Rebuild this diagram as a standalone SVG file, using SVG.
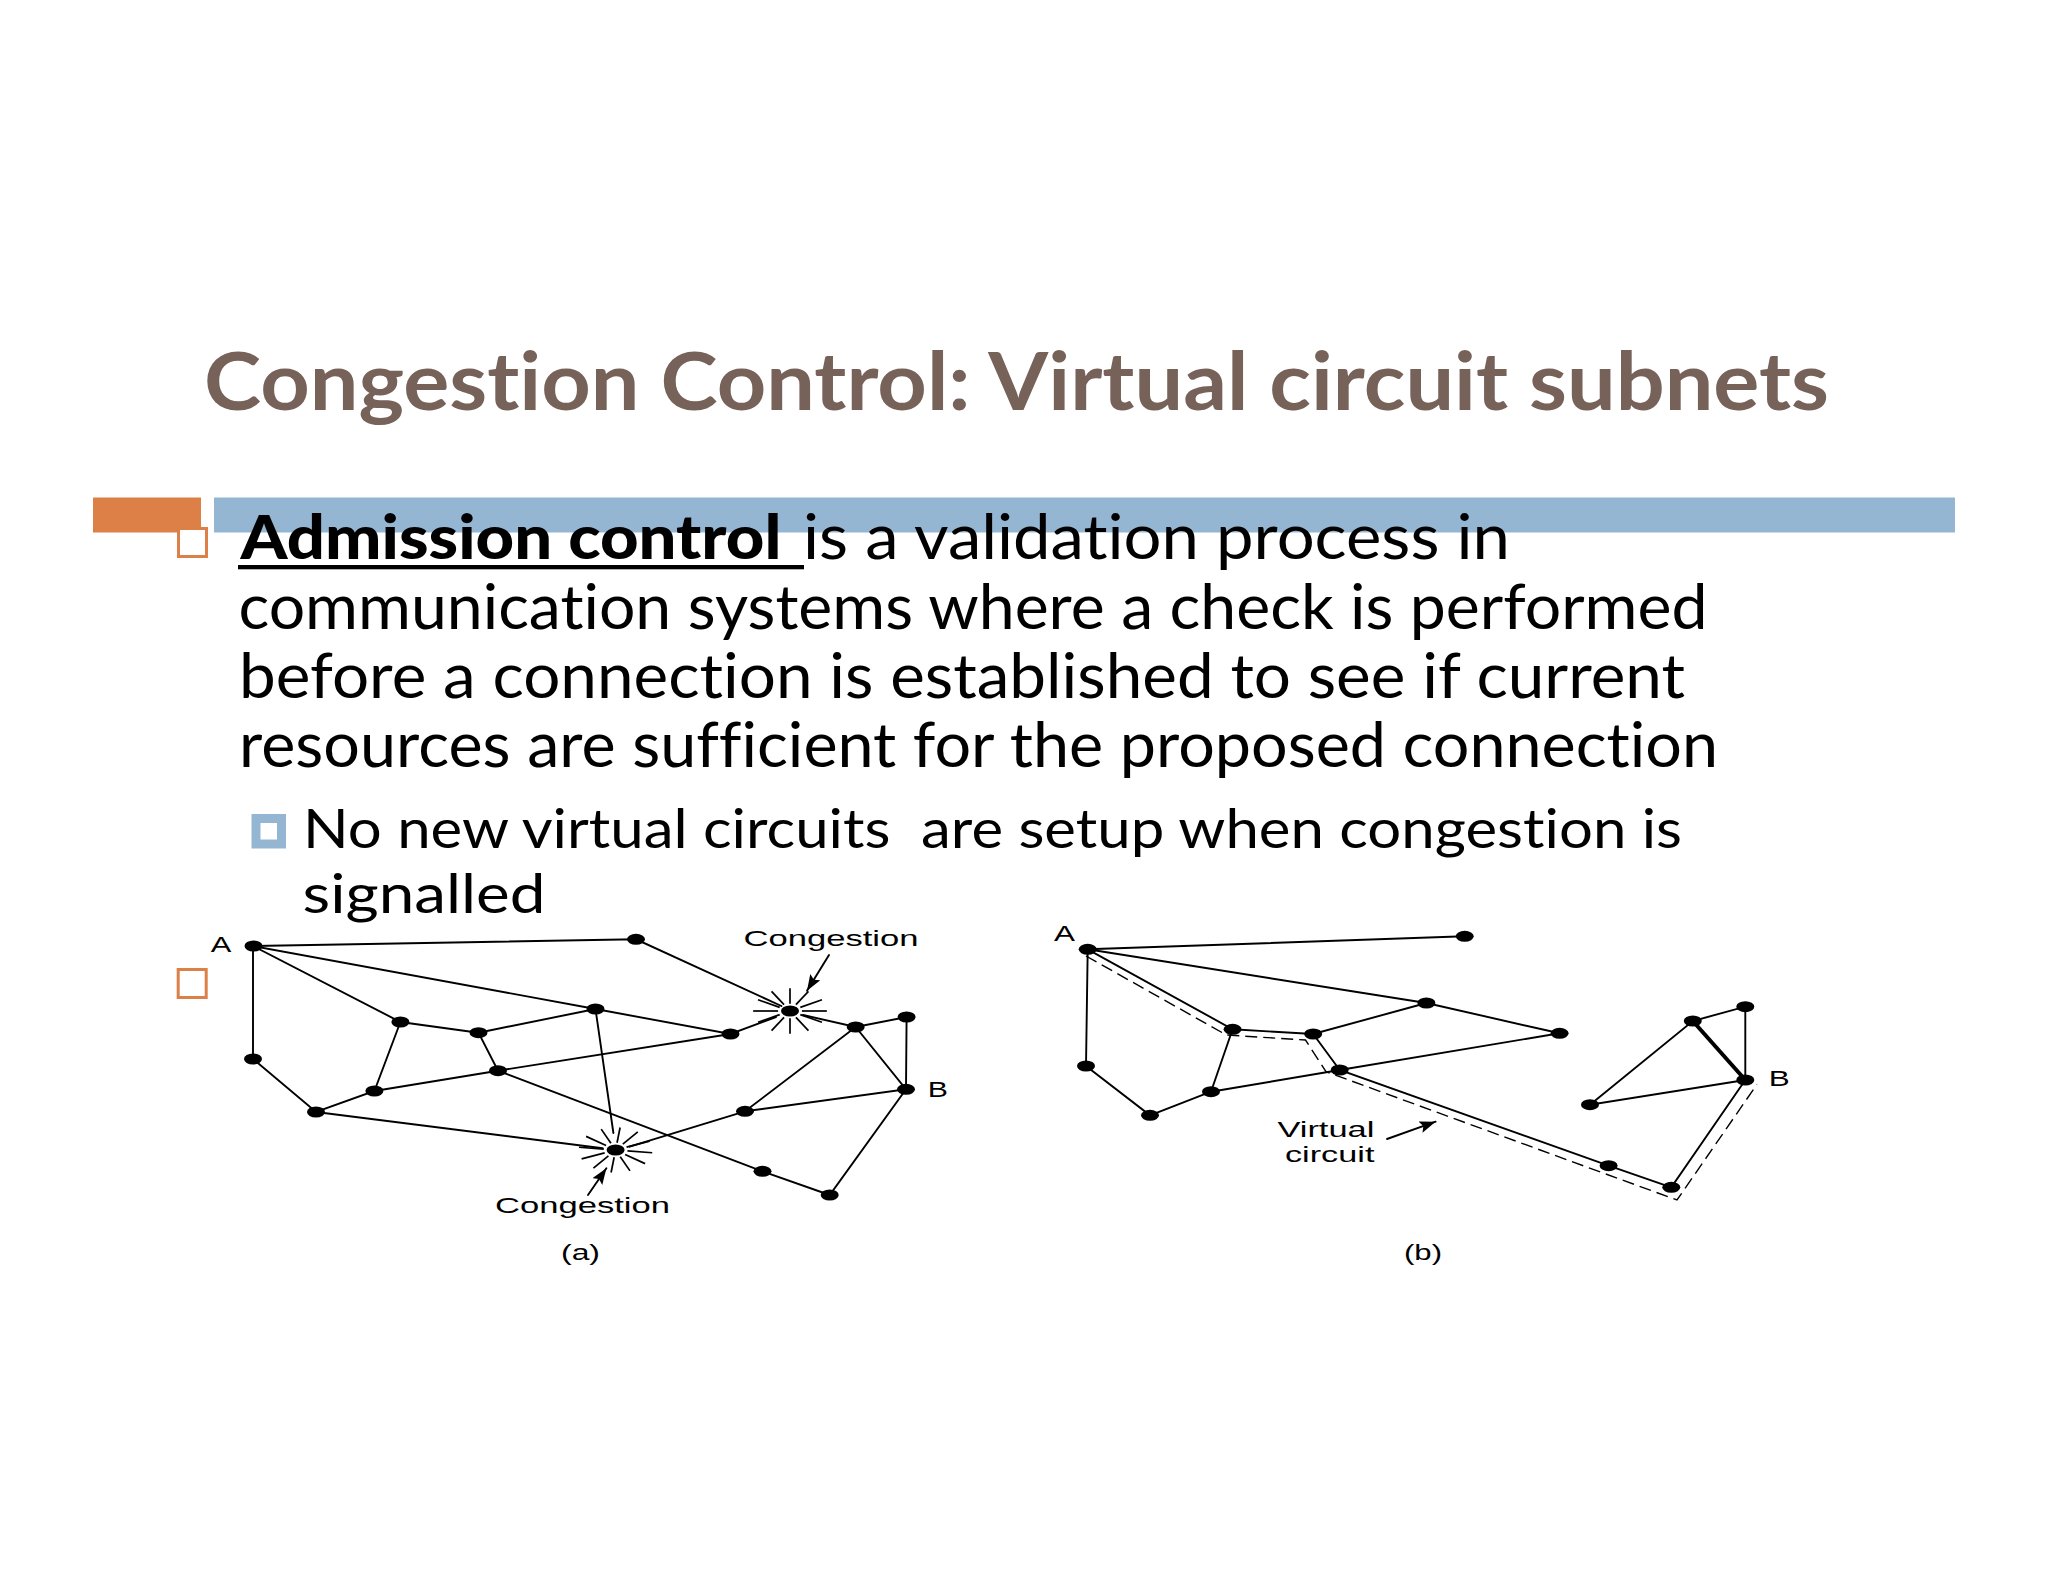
<svg xmlns="http://www.w3.org/2000/svg" xmlns:xlink="http://www.w3.org/1999/xlink" width="2048" height="1582" viewBox="0 0 2048 1582">
<style>
text{font-variant-ligatures:none}
.title{font-family:"Lato","Liberation Sans",sans-serif;font-weight:700;font-size:81px;fill:#77625a}
.b1{font-family:"Lato","Liberation Sans",sans-serif;font-size:61px;fill:#000}
.b1b{font-family:"Lato","Liberation Sans",sans-serif;font-size:61px;font-weight:900;fill:#000}
.b2{font-family:"Lato","Liberation Sans",sans-serif;font-size:54px;fill:#000}
.lab{font-family:"Liberation Sans",Arial,sans-serif;font-size:22px;fill:#000}
.e{stroke:#000;stroke-width:1.9;fill:none;stroke-linecap:round}
.thick{stroke:#000;stroke-width:4;fill:none}
.dash{stroke:#000;stroke-width:1.4;fill:none;stroke-dasharray:12 6}
.n{fill:#000}
.ray{stroke:#000;stroke-width:1.7;vector-effect:non-scaling-stroke}
.bul{fill:#fff;stroke:#dd8047;stroke-width:3}
</style>
<defs>
<marker id="arr" markerUnits="userSpaceOnUse" markerWidth="18" markerHeight="14" refX="16" refY="6" orient="auto"><path d="M0 0L16 6L0 12L3 6Z" fill="#000"/></marker>
<g id="burst">
<line class="ray" x1="22" y1="0" x2="68" y2="0"/><line class="ray" x1="19" y1="11" x2="59" y2="34"/><line class="ray" x1="11" y1="19" x2="34" y2="59"/><line class="ray" x1="0" y1="22" x2="0" y2="68"/><line class="ray" x1="-11" y1="19" x2="-34" y2="59"/><line class="ray" x1="-19" y1="11" x2="-59" y2="34"/><line class="ray" x1="-22" y1="0" x2="-68" y2="0"/><line class="ray" x1="-19" y1="-11" x2="-59" y2="-34"/><line class="ray" x1="-11" y1="-19" x2="-34" y2="-59"/><line class="ray" x1="0" y1="-22" x2="0" y2="-68"/><line class="ray" x1="11" y1="-19" x2="34" y2="-59"/><line class="ray" x1="19" y1="-11" x2="59" y2="-34"/>
</g>
</defs>
<rect width="2048" height="1582" fill="#fff"/>
<g id="title"><text class="title" x="204" y="410" textLength="1625" lengthAdjust="spacingAndGlyphs">Congestion Control: Virtual circuit subnets</text></g>
<g id="bars">
<rect x="93" y="497.5" width="108" height="35" fill="#dd8047"/>
<rect x="214" y="497.5" width="1741" height="35" fill="#94b6d2"/>
</g>
<g id="bullets">
<rect class="bul" x="178.5" y="528.5" width="28" height="28"/>
<rect class="bul" x="178.2" y="969.5" width="28" height="28"/>
<rect x="256" y="818.5" width="25.5" height="25.5" fill="#fff" stroke="#94b6d2" stroke-width="9"/>
</g>
<g id="body">
<text class="b1b" x="240.5" y="559" textLength="541" lengthAdjust="spacingAndGlyphs">Admission control</text>
<rect x="238" y="565" width="566" height="4.3" fill="#000"/>
<text class="b1" x="803" y="559" textLength="707" lengthAdjust="spacingAndGlyphs">is a validation process in</text>
<text class="b1" x="238.5" y="629" textLength="1469" lengthAdjust="spacingAndGlyphs">communication systems where a check is performed</text>
<text class="b1" x="239" y="697.5" textLength="1446" lengthAdjust="spacingAndGlyphs">before a connection is established to see if current</text>
<text class="b1" x="239" y="766.5" textLength="1479" lengthAdjust="spacingAndGlyphs">resources are sufficient for the proposed connection</text>
<text class="b2" x="303" y="848" textLength="1379" lengthAdjust="spacingAndGlyphs" xml:space="preserve">No new virtual circuits  are setup when congestion is</text>
<text class="b2" x="302.5" y="912.5" textLength="243" lengthAdjust="spacingAndGlyphs">signalled</text>
</g>
<g id="connectors">
<g id="connectors-a">
<path class="e" d="M253 946L636 939.3L781.4 1006"/>
<path class="e" d="M253 946L595.5 1009L730.5 1034L776 1017"/>
<path class="e" d="M803 1015L855.7 1027L906.6 1017L906 1089.3L855.7 1027L745 1111.3L906 1089.3L829.7 1195L762.5 1171.3L498 1070.7L478.5 1032.7L595.5 1009"/>
<path class="e" d="M478.5 1032.7L400.4 1022L253 946L253 1059L316 1112L374.4 1091L400.4 1022"/>
<path class="e" d="M374.4 1091L498 1070.7L730.5 1034"/>
<path class="e" d="M316 1112L602.6 1148.3"/>
<path class="e" d="M595.5 1009L613.4 1133"/>
<path class="e" d="M745 1111.3L629.7 1146.7"/>
<line class="e" x1="829" y1="955" x2="807" y2="990.7" marker-end="url(#arr)"/>
<line class="e" x1="588" y1="1195" x2="606.4" y2="1168.3" marker-end="url(#arr)"/>
</g>
<g id="connectors-b">
<path class="e" d="M1087.7 949.3L1464.7 936.3"/>
<path class="e" d="M1087.7 949.3L1426.4 1003L1559.6 1033.3L1339.7 1070L1211 1091.7L1150 1115.3L1086 1066L1087.7 949.3L1232.6 1029.3L1313.2 1034L1426.4 1003"/>
<path class="e" d="M1232.6 1029.3L1211 1091.7"/>
<path class="e" d="M1313.2 1034L1339.7 1070L1608.6 1165.7L1671.3 1187.3L1745.3 1080L1745.3 1006.7L1692.8 1021L1590 1104.7L1745.3 1080"/>
<line class="thick" x1="1692.8" y1="1021" x2="1745.3" y2="1080"/>
<path class="dash" d="M1086 956L1226.4 1035L1305.5 1040L1326 1071.7L1677 1200L1757 1084.3"/>
<line class="e" x1="1387" y1="1139" x2="1435.6" y2="1121.7" marker-end="url(#arr)"/>
</g>
</g>
<g id="diagram-a-nodes">
<g id="a-A"><ellipse class="n" cx="253.5" cy="946" rx="9" ry="5.5"/><text class="lab" x="210.7" y="952" textLength="20.6" lengthAdjust="spacingAndGlyphs">A</text></g>
<g id="a-n1"><ellipse class="n" cx="636" cy="939.3" rx="9" ry="5.5"/></g>
<g id="a-congestion1"><use xlink:href="#burst" href="#burst" transform="translate(790 1011) scale(.542 .333)"/><ellipse class="n" cx="790" cy="1011" rx="9" ry="5.5"/><text class="lab" x="743.5" y="945.5" textLength="175" lengthAdjust="spacingAndGlyphs">Congestion</text></g>
<g id="a-n2"><ellipse class="n" cx="855.7" cy="1027" rx="9" ry="5.5"/></g>
<g id="a-n3"><ellipse class="n" cx="906.6" cy="1017" rx="9" ry="5.5"/></g>
<g id="a-B"><ellipse class="n" cx="906" cy="1089.3" rx="9" ry="5.5"/><text class="lab" x="927.8" y="1097" textLength="20.2" lengthAdjust="spacingAndGlyphs">B</text></g>
<g id="a-n4"><ellipse class="n" cx="745" cy="1111.3" rx="9" ry="5.5"/></g>
<g id="a-congestion2"><use xlink:href="#burst" href="#burst" transform="translate(615.6 1150) scale(.542 .333) rotate(7)"/><ellipse class="n" cx="615.6" cy="1150" rx="9" ry="5.5"/><text class="lab" x="495" y="1212.5" textLength="175" lengthAdjust="spacingAndGlyphs">Congestion</text></g>
<g id="a-n5"><ellipse class="n" cx="762.5" cy="1171.3" rx="9" ry="5.5"/></g>
<g id="a-n6"><ellipse class="n" cx="829.7" cy="1195" rx="9" ry="5.5"/></g>
<g id="a-n7"><ellipse class="n" cx="730.5" cy="1034" rx="9" ry="5.5"/></g>
<g id="a-n8"><ellipse class="n" cx="595.5" cy="1009" rx="9" ry="5.5"/></g>
<g id="a-n9"><ellipse class="n" cx="478.5" cy="1032.7" rx="9" ry="5.5"/></g>
<g id="a-n10"><ellipse class="n" cx="400.4" cy="1022" rx="9" ry="5.5"/></g>
<g id="a-n11"><ellipse class="n" cx="498" cy="1070.7" rx="9" ry="5.5"/></g>
<g id="a-n12"><ellipse class="n" cx="374.4" cy="1091" rx="9" ry="5.5"/></g>
<g id="a-n13"><ellipse class="n" cx="316" cy="1112" rx="9" ry="5.5"/></g>
<g id="a-n14"><ellipse class="n" cx="253" cy="1059" rx="9" ry="5.5"/></g>
<text class="lab" x="561" y="1260" textLength="39" lengthAdjust="spacingAndGlyphs">(a)</text>
</g>
<g id="diagram-b-nodes">
<g id="b-A"><ellipse class="n" cx="1087.7" cy="949.3" rx="9" ry="5.5"/><text class="lab" x="1054" y="940.5" textLength="21" lengthAdjust="spacingAndGlyphs">A</text></g>
<g id="b-n1"><ellipse class="n" cx="1464.7" cy="936.3" rx="9" ry="5.5"/></g>
<g id="b-n2"><ellipse class="n" cx="1426.4" cy="1003" rx="9" ry="5.5"/></g>
<g id="b-n3"><ellipse class="n" cx="1559.6" cy="1033.3" rx="9" ry="5.5"/></g>
<g id="b-n4"><ellipse class="n" cx="1745.3" cy="1006.7" rx="9" ry="5.5"/></g>
<g id="b-n5"><ellipse class="n" cx="1692.8" cy="1021" rx="9" ry="5.5"/></g>
<g id="b-B"><ellipse class="n" cx="1745.3" cy="1080" rx="9" ry="5.5"/><text class="lab" x="1768.8" y="1085.5" textLength="21" lengthAdjust="spacingAndGlyphs">B</text></g>
<g id="b-n6"><ellipse class="n" cx="1590" cy="1104.7" rx="9" ry="5.5"/></g>
<g id="b-n7"><ellipse class="n" cx="1671.3" cy="1187.3" rx="9" ry="5.5"/></g>
<g id="b-n8"><ellipse class="n" cx="1608.6" cy="1165.7" rx="9" ry="5.5"/></g>
<g id="b-n9"><ellipse class="n" cx="1339.7" cy="1070" rx="9" ry="5.5"/></g>
<g id="b-n10"><ellipse class="n" cx="1313.2" cy="1034" rx="9" ry="5.5"/></g>
<g id="b-n11"><ellipse class="n" cx="1232.6" cy="1029.3" rx="9" ry="5.5"/></g>
<g id="b-n12"><ellipse class="n" cx="1211" cy="1091.7" rx="9" ry="5.5"/></g>
<g id="b-n13"><ellipse class="n" cx="1150" cy="1115.3" rx="9" ry="5.5"/></g>
<g id="b-n14"><ellipse class="n" cx="1086" cy="1066" rx="9" ry="5.5"/></g>
<text class="lab" x="1277.4" y="1137" textLength="97" lengthAdjust="spacingAndGlyphs">Virtual</text>
<text class="lab" x="1285" y="1162" textLength="89.4" lengthAdjust="spacingAndGlyphs">circuit</text>
<text class="lab" x="1404" y="1260" textLength="38" lengthAdjust="spacingAndGlyphs">(b)</text>
</g>
</svg>
